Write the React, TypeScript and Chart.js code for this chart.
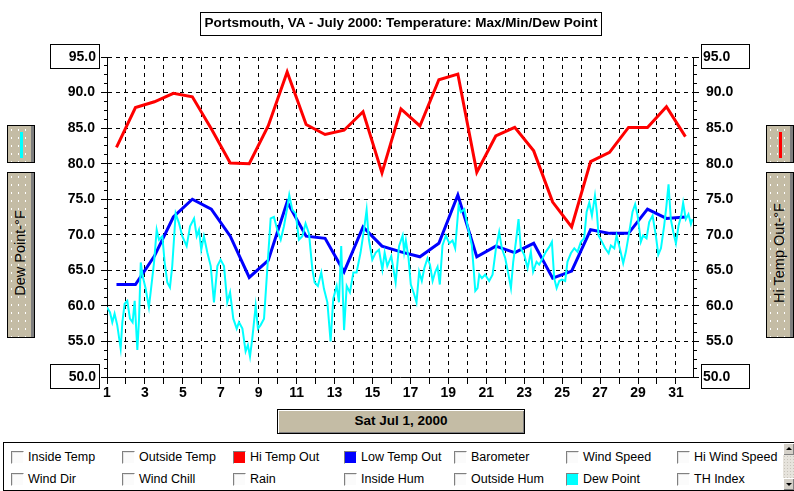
import React, { useEffect, useRef } from 'react';
import { Chart, registerables } from 'chart.js';

Chart.register(...registerables);

const FONT = '"Liberation Sans", Arial, sans-serif';

// ---- data ----
const days = [1, 2, 3, 4, 5, 6, 7, 8, 9, 10, 11, 12, 13, 14, 15, 16, 17, 18, 19, 20, 21, 22, 23, 24, 25, 26, 27, 28, 29, 30, 31];
const xLabelDays = [1, 3, 5, 7, 9, 11, 13, 15, 17, 19, 21, 23, 25, 27, 29, 31];
const yMajorTicks = [50, 55, 60, 65, 70, 75, 80, 85, 90, 95];

const hiTempOut = [82.3, 87.9, 88.7, 89.9, 89.4, 84.9, 80.1, 80.0, 85.3, 92.9, 85.5, 84.1, 84.7, 87.3, 78.7, 87.7, 85.3, 91.8, 92.6, 78.8, 83.9, 85.1, 81.8, 74.6, 71.1, 80.3, 81.6, 85.1, 85.1, 88.0, 83.8];
const lowTempOut = [63.0, 63.0, 67.0, 72.5, 75.0, 73.6, 69.8, 64.0, 66.4, 74.6, 69.8, 69.5, 64.8, 71.1, 68.4, 67.6, 66.9, 68.8, 75.6, 66.9, 68.4, 67.5, 68.8, 63.9, 64.9, 70.7, 70.2, 70.2, 73.6, 72.3, 72.5];

const dewTimes = [
  1.00, 1.16, 1.28, 1.40, 1.54, 1.72, 1.81, 1.93, 2.07, 2.21, 2.35, 2.46, 2.60, 2.69, 2.78, 2.88,
  3.04, 3.21, 3.34, 3.48, 3.62, 3.74, 3.92, 4.04, 4.18, 4.32, 4.44, 4.62, 4.80, 4.97,
  5.20, 5.38, 5.59, 5.73, 5.85, 5.97, 6.11, 6.29, 6.47, 6.64, 6.82, 6.99,
  7.17, 7.34, 7.49, 7.66, 7.84, 7.96, 8.14, 8.31, 8.43, 8.54, 8.66, 8.84, 8.96,
  9.10, 9.28, 9.45, 9.63, 9.80, 9.98, 10.16, 10.33, 10.51, 10.61, 10.77, 10.95,
  11.12, 11.30, 11.47, 11.65, 11.83, 11.95, 12.12, 12.30, 12.44, 12.62, 12.79, 12.93,
  13.11, 13.23, 13.35, 13.50, 13.64, 13.81, 13.99, 14.16, 14.37, 14.55, 14.69, 14.81, 14.99,
  15.17, 15.34, 15.52, 15.64, 15.78, 15.99, 16.22, 16.40, 16.59, 16.67, 16.76, 16.90,
  17.02, 17.20, 17.32, 17.46, 17.60, 17.73, 17.90, 18.03, 18.17, 18.31, 18.43, 18.55, 18.69, 18.87,
  19.05, 19.22, 19.36, 19.54, 19.66, 19.84, 20.01, 20.24, 20.42, 20.54, 20.63, 20.77, 20.94,
  21.15, 21.33, 21.51, 21.68, 21.82, 22.00, 22.17, 22.30, 22.42, 22.56, 22.70, 22.82,
  23.00, 23.18, 23.35, 23.47, 23.65, 23.79, 23.97, 24.14, 24.32, 24.46, 24.58, 24.71, 24.85, 24.99,
  25.16, 25.28, 25.46, 25.64, 25.81, 25.99, 26.16, 26.29, 26.43, 26.57, 26.73, 26.83, 26.92,
  27.10, 27.27, 27.45, 27.57, 27.75, 27.87, 28.04, 28.22, 28.36, 28.54, 28.71, 28.85, 28.98,
  29.15, 29.27, 29.45, 29.59, 29.77, 29.94, 30.07, 30.21, 30.38, 30.50, 30.61, 30.73, 30.86,
  31.00, 31.14, 31.28, 31.38, 31.52, 31.66, 31.79, 31.87,
];
const dewPoint = [
  59.8, 59.1, 57.7, 58.9, 57.3, 54.0, 57.7, 60.3, 60.7, 58.2, 57.7, 60.7, 53.8, 58.2, 66.1, 64.2,
  62.4, 59.8, 62.8, 66.1, 70.7, 69.3, 69.8, 66.1, 63.3, 62.6, 65.6, 73.0, 71.6, 69.8,
  68.4, 71.2, 72.3, 69.8, 70.7, 67.9, 69.8, 67.5, 65.6, 60.5, 65.6, 66.5,
  65.6, 60.5, 61.9, 58.2, 56.8, 57.7, 56.8, 53.6, 54.5, 52.9, 55.4, 60.0, 56.8,
  57.3, 58.2, 65.1, 72.3, 72.5, 70.7, 69.3, 71.2, 73.9, 75.6, 73.5, 73.0,
  69.3, 69.8, 71.6, 70.2, 65.1, 63.3, 62.8, 64.7, 62.4, 60.5, 55.0, 61.0,
  62.8, 60.5, 68.4, 56.6, 62.8, 61.9, 64.7, 64.7, 67.5, 70.7, 73.5, 69.3, 66.5,
  67.5, 67.9, 65.1, 67.5, 65.6, 67.0, 63.3, 68.4, 69.9, 67.6, 69.2, 66.7,
  63.0, 61.6, 60.5, 64.8, 63.5, 65.3, 66.7, 65.8, 63.5, 64.8, 65.5, 63.0, 68.5, 69.9,
  68.8, 69.2, 68.1, 74.1, 73.2, 73.6, 71.3, 68.5, 62.1, 62.5, 64.4, 63.9, 64.4,
  63.5, 64.4, 68.1, 70.4, 68.1, 66.7, 64.4, 62.5, 66.2, 69.0, 72.2, 68.1,
  67.2, 65.3, 67.6, 64.8, 66.2, 65.8, 66.7, 67.6, 68.3, 69.0, 63.9, 62.5, 63.5, 63.7,
  63.5, 66.2, 67.4, 68.1, 67.6, 69.0, 69.5, 73.2, 74.5, 72.7, 75.5, 73.2, 69.9,
  69.0, 68.1, 67.4, 68.5, 68.1, 69.9, 68.1, 66.0, 67.6, 70.4, 73.2, 74.3, 72.7,
  69.0, 69.9, 69.5, 71.8, 72.7, 69.9, 67.2, 68.1, 71.3, 74.1, 77.1, 72.2, 70.4,
  68.8, 71.3, 72.7, 74.5, 72.2, 72.9, 71.5, 72.2,
];

const legendRow1 = [
  { label: 'Inside Temp', color: '' },
  { label: 'Outside Temp', color: '' },
  { label: 'Hi Temp Out', color: '#ff0000' },
  { label: 'Low Temp Out', color: '#0000ff' },
  { label: 'Barometer', color: '' },
  { label: 'Wind Speed', color: '' },
  { label: 'Hi Wind Speed', color: '' },
];
const legendRow2 = [
  { label: 'Wind Dir', color: '' },
  { label: 'Wind Chill', color: '' },
  { label: 'Rain', color: '' },
  { label: 'Inside Hum', color: '' },
  { label: 'Outside Hum', color: '' },
  { label: 'Dew Point', color: '#00ffff' },
  { label: 'TH Index', color: '' },
];
const legendCols = [11, 122, 233, 344, 454, 566, 677];

const Y_MIN = 50;
const Y_MAX = 95;

function buildYTicks() {
  const out: number[] = [];
  for (let i = 0; i < yMajorTicks.length; i++) {
    out.push(yMajorTicks[i]);
    if (i < yMajorTicks.length - 1) {
      const a = yMajorTicks[i];
      const b = yMajorTicks[i + 1];
      for (let k = 1; k < 4; k++) out.push(a + ((b - a) * k) / 4);
    }
  }
  return out;
}
const yAllTicks = buildYTicks();
const isMajor = (v: number) => yMajorTicks.includes(v);

const tan = '#c4bca5';
const dots = 'radial-gradient(circle, #ffffff 0.8px, rgba(255,255,255,0) 1.1px)';
const GRID_DASH = [4, 4];

const boxedLabels = {
  id: 'boxedLabels',
  afterDraw(chart: any) {
    const ctx = chart.ctx;
    const ys = chart.scales.y;
    ctx.save();
    ctx.font = 'bold 14px ' + FONT;
    ctx.fillStyle = '#000';
    ctx.strokeStyle = '#000';
    ctx.lineWidth = 1;
    ctx.textBaseline = 'middle';
    [Y_MAX, Y_MIN].forEach((v) => {
      const py = Math.round(ys.getPixelForValue(v));
      ctx.strokeRect(50.5, py - 12.5, 49, 24);
      ctx.textAlign = 'right';
      ctx.fillText(v.toFixed(1), 96, py + 0.5);
      ctx.strokeRect(701.5, py - 12.5, 48, 24);
      ctx.textAlign = 'left';
      ctx.fillText(v.toFixed(1), 703, py + 0.5);
    });
    ctx.restore();
  },
};

function Checkbox({ color }: { color: string }) {
  return (
    <div
      style={{
        width: 13,
        height: 13,
        boxSizing: 'border-box',
        borderTop: '1px solid #808080',
        borderLeft: '1px solid #808080',
        borderRight: '1px solid #ffffff',
        borderBottom: '1px solid #ffffff',
        background: color || '#fbfbfb',
        boxShadow: color ? 'none' : 'inset 1px 1px 0 #e4e4e4',
        flex: 'none',
      }}
    />
  );
}

function SideButtons({ left, lineColor, text }: { left: number; lineColor: string; text: string }) {
  const base: React.CSSProperties = {
    position: 'absolute',
    left,
    width: 28,
    boxSizing: 'border-box',
    border: '1px solid #000',
    background: tan,
    backgroundImage: dots,
    backgroundSize: '7px 8px',
    boxShadow: 'inset -3px 0 0 #7e7e7e',
  };
  return (
    <>
      <div style={{ ...base, top: 125, height: 38 }}>
        <div style={{ position: 'absolute', left: 12, top: 6, width: 3, height: 26, background: lineColor }} />
      </div>
      <div style={{ ...base, top: 172, height: 166 }}>
        <div
          style={{
            position: 'absolute',
            left: 12,
            top: 80,
            transform: 'translate(-50%, -50%) rotate(-90deg)',
            whiteSpace: 'nowrap',
            fontSize: 14.5,
            color: '#000',
            fontFamily: FONT,
          }}
        >
          {text}
        </div>
      </div>
    </>
  );
}

export default function App() {
  const ref = useRef<HTMLCanvasElement | null>(null);

  useEffect(() => {
    if (!ref.current) return;
    const hiPts = hiTempOut.map((v, i) => ({ x: days[i] + 0.5, y: v }));
    const lowPts = lowTempOut.map((v, i) => ({ x: days[i] + 0.5, y: v }));
    const dewPts = dewPoint.map((v, i) => ({ x: dewTimes[i], y: v }));

    const tickFont = { family: FONT, size: 14, weight: 'bold' as const };

    const chart = new Chart(ref.current, {
      type: 'line',
      data: {
        datasets: [
          { label: 'Dew Point', data: dewPts, borderColor: '#00ffff', borderWidth: 2, pointRadius: 0, tension: 0, xAxisID: 'x', yAxisID: 'y' },
          { label: 'Low Temp Out', data: lowPts, borderColor: '#0000ff', borderWidth: 3, pointRadius: 0, tension: 0, xAxisID: 'x', yAxisID: 'y' },
          { label: 'Hi Temp Out', data: hiPts, borderColor: '#ff0000', borderWidth: 3, pointRadius: 0, tension: 0, xAxisID: 'x', yAxisID: 'y' },
        ],
      },
      options: {
        animation: false,
        responsive: false,
        maintainAspectRatio: false,
        devicePixelRatio: 1,
        layout: { padding: { top: 57, left: 0, right: 0, bottom: 0 } },
        plugins: { legend: { display: false }, tooltip: { enabled: false }, title: { display: false } },
        scales: {
          x: {
            type: 'linear',
            position: 'bottom',
            min: 1,
            max: 31.9,
            afterFit: (s: any) => { s.height = 114; },
            afterBuildTicks: (s: any) => { s.ticks = days.map((v) => ({ value: v })); },
            grid: { color: '#000', lineWidth: 1, drawTicks: true, tickLength: 7, tickColor: '#000', tickBorderDash: [] },
            border: { display: true, color: '#000', width: 1, dash: GRID_DASH },
            ticks: {
              autoSkip: false,
              maxRotation: 0,
              minRotation: 0,
              padding: 1,
              color: '#000',
              font: tickFont,
              callback: (v: any) => (xLabelDays.includes(Number(v)) ? String(v) : ''),
            },
          },
          y: {
            type: 'linear',
            position: 'left',
            min: Y_MIN,
            max: Y_MAX,
            afterFit: (s: any) => { s.width = 107; },
            afterBuildTicks: (s: any) => { s.ticks = yAllTicks.map((v) => ({ value: v })); },
            grid: {
              color: (c: any) => (c.tick && isMajor(c.tick.value) ? '#000' : 'rgba(0,0,0,0)'),
              tickColor: '#000',
              tickLength: 6,
              tickBorderDash: (c: any) => (c.tick && isMajor(c.tick.value) ? [] : [0, 3, 3, 20]),
            },
            border: { display: true, color: '#000', width: 1, dash: GRID_DASH },
            ticks: {
              autoSkip: false,
              padding: 6,
              color: '#000',
              font: tickFont,
              callback: (v: any) => {
                const n = Number(v);
                return isMajor(n) && n !== Y_MIN && n !== Y_MAX ? n.toFixed(1) : '';
              },
            },
          },
          y2: {
            type: 'linear',
            position: 'right',
            display: true,
            min: Y_MIN,
            max: Y_MAX,
            afterFit: (s: any) => { s.width = 101; },
            afterBuildTicks: (s: any) => { s.ticks = yAllTicks.map((v) => ({ value: v })); },
            grid: {
              drawOnChartArea: false,
              color: '#000',
              tickColor: '#000',
              tickLength: 6,
              tickBorderDash: (c: any) => (c.tick && isMajor(c.tick.value) ? [] : [3, 20]),
            },
            border: { display: true, color: '#000', width: 1 },
            ticks: {
              autoSkip: false,
              padding: 7,
              color: '#000',
              font: tickFont,
              callback: (v: any) => {
                const n = Number(v);
                return isMajor(n) && n !== Y_MIN && n !== Y_MAX ? n.toFixed(1) : '';
              },
            },
          },
        },
      },
      plugins: [boxedLabels],
    });
    return () => chart.destroy();
  }, []);

  return (
    <div style={{ position: 'absolute', left: 0, top: 0, width: 794, height: 491, background: '#fff', overflow: 'hidden', fontFamily: FONT }}>
      <canvas ref={ref} width={794} height={491} style={{ position: 'absolute', left: 0, top: 0, width: 794, height: 491 }} />

      <div
        style={{
          position: 'absolute', left: 200, top: 12, width: 402, height: 24, boxSizing: 'border-box',
          border: '1px solid #000', fontWeight: 'bold', fontSize: 13.5, lineHeight: '20px',
          textAlign: 'center', whiteSpace: 'nowrap', color: '#000',
        }}
      >
        Portsmouth, VA - July 2000: Temperature: Max/Min/Dew Point
      </div>

      <SideButtons left={7} lineColor="#00ffff" text="Dew Point-°F" />
      <SideButtons left={766} lineColor="#ff0000" text="Hi Temp Out-°F" />

      <div
        style={{
          position: 'absolute', left: 277, top: 409, width: 248, height: 25, boxSizing: 'border-box',
          border: '1px solid #000', background: tan,
          boxShadow: 'inset 1px 1px 0 #ffffff, inset -1px -1px 0 #808080',
          fontWeight: 'bold', fontSize: 13.5, lineHeight: '22px', textAlign: 'center', color: '#000',
        }}
      >
        Sat Jul 1, 2000
      </div>

      <div style={{ position: 'absolute', left: 3, top: 442, width: 800, height: 49, boxSizing: 'border-box', border: '1px solid #000', background: '#fff' }} />
      {[legendRow1, legendRow2].map((row, r) =>
        row.map((item, i) => (
          <div
            key={r + '-' + i}
            style={{ position: 'absolute', left: legendCols[i], top: r === 0 ? 451 : 473, height: 13, display: 'flex', alignItems: 'center', whiteSpace: 'nowrap' }}
          >
            <Checkbox color={item.color} />
            <span style={{ marginLeft: 4, fontSize: 12.5, lineHeight: '13px', color: '#000' }}>{item.label}</span>
          </div>
        ))
      )}
      <div style={{ position: 'absolute', left: 783, top: 443, width: 11, height: 47, background: '#e6e3dc', backgroundImage: 'radial-gradient(circle, #c8c4bb 0.7px, rgba(0,0,0,0) 1px)', backgroundSize: '3px 3px' }}>
        <div style={{ position: 'absolute', left: 0, top: 0, width: 11, height: 12, background: '#d4d0c8', boxShadow: 'inset 1px 1px 0 #fff, inset -1px -1px 0 #808080' }}>
          <div style={{ position: 'absolute', left: 3, top: 4, width: 0, height: 0, borderLeft: '3px solid transparent', borderRight: '3px solid transparent', borderBottom: '3px solid #000' }} />
        </div>
        <div style={{ position: 'absolute', left: 0, top: 35, width: 11, height: 12, background: '#d4d0c8', boxShadow: 'inset 1px 1px 0 #fff, inset -1px -1px 0 #808080' }}>
          <div style={{ position: 'absolute', left: 3, top: 5, width: 0, height: 0, borderLeft: '3px solid transparent', borderRight: '3px solid transparent', borderTop: '3px solid #000' }} />
        </div>
      </div>
    </div>
  );
}
